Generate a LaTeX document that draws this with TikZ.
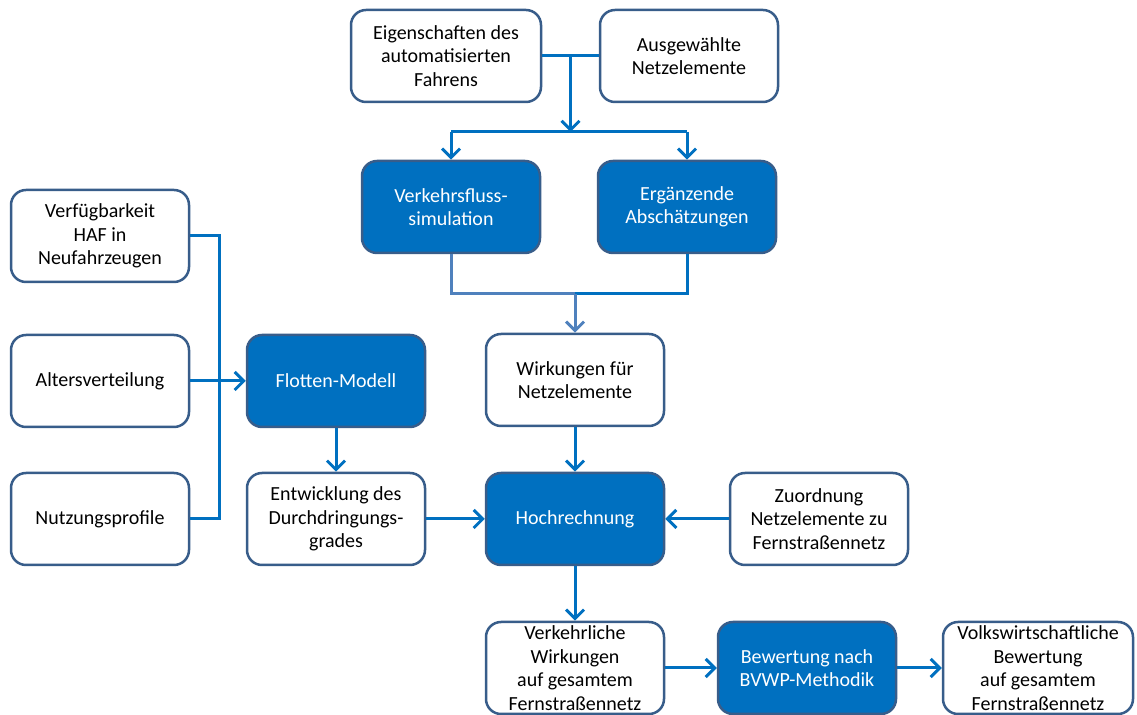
\documentclass[tikz,border=0pt]{standalone}
\usepackage{fontspec}
\setmainfont{Carlito}
\usetikzlibrary{arrows.meta, calc}

\definecolor{boxblue}{RGB}{0,112,192}
\definecolor{boxline}{RGB}{56,93,138}
\definecolor{lightflow}{RGB}{79,129,189}

\begin{document}
\begin{tikzpicture}[x=0.5pt, y=-0.5pt,
  box/.style={draw=boxline, line width=1.25pt, rounded corners=7.5pt, fill=white,
    minimum width=89pt, minimum height=46pt, inner sep=1pt, align=center,
    font=\fontsize{10}{11.75}\selectfont},
  bluebox/.style={box, fill=boxblue, text=white},
  flow/.style={draw=boxblue, line width=1.5pt},
  >={Straight Barb[length=4.5pt, width=9pt]},
]
\useasboundingbox (0,0) rectangle (1137,715);

% inputs on top
\node[box, minimum width=95pt] (eig) at (446,56) {Eigenschaften des\\automatisierten\\Fahrens};
\node[box] (aus) at (689,56) {Ausgewählte\\Netzelemente};
\node[bluebox] (vfs) at (451,207) {Verkehrsfluss-\\simulation};
\node[bluebox] (erg) at (687,207) {Ergänzende\\Abschätzungen};
\node[box] (wir) at (575,380) {Wirkungen für\\Netzelemente};

% fleet part
\node[box] (ver) at (100,236) {Verfügbarkeit\\HAF in\\Neufahrzeugen};
\node[box] (alt) at (100,381) {Altersverteilung};
\node[box] (nut) at (100,519) {Nutzungsprofile};
\node[bluebox] (flo) at (336,381) {Flotten-Modell};
\node[box] (ent) at (336,519) {Entwicklung des\\Durchdringungs-\\grades};

\node[bluebox] (hoch) at (575,519) {Hochrechnung};
\node[box] (zuo) at (819,519) {Zuordnung\\Netzelemente zu\\Fernstraßennetz};

% bottom row
\node[box] (vkw) at (575,668) {Verkehrliche\\Wirkungen\\auf gesamtem\\Fernstraßennetz};
\node[bluebox] (bew) at (807,668) {Bewertung nach\\BVWP-Methodik};
\node[box, minimum width=95pt] (vol) at (1038,668) {Volkswirtschaftliche\\Bewertung\\auf gesamtem\\Fernstraßennetz};

% top junction
\coordinate (top) at ($(eig.east)!0.5!(aus.west)$);
\coordinate (split) at (top |- 0,132);
\path[flow] (eig.east) -- (aus.west);
\path[flow, ->] (top) -- (split);
\path[flow] (vfs.north |- split) -- (erg.north |- split);
\path[flow, ->] (vfs.north |- split) -- (vfs.north);
\path[flow, ->] (erg.north |- split) -- (erg.north);

% merge below simulations
\coordinate (merge) at (wir.north |- 0,294);
\path[flow, draw=lightflow] (vfs.south) |- (merge);
\path[flow] (erg.south) |- (merge);
\path[flow, draw=lightflow, ->] (merge) -- (wir.north);

% left inputs
\path[flow] (ver.east) -- ++(29,0) |- (nut.east);
\path[flow, ->] (alt) -- (flo);
\path[flow, ->] (flo) -- (ent);
\path[flow, ->] (ent) -- (hoch);
\path[flow, ->] (wir) -- (hoch);
\path[flow, ->] (zuo) -- (hoch);
\path[flow, ->] (hoch) -- (vkw);
\path[flow, ->] (vkw) -- (bew);
\path[flow, ->] (bew) -- (vol);

\end{tikzpicture}
\end{document}
